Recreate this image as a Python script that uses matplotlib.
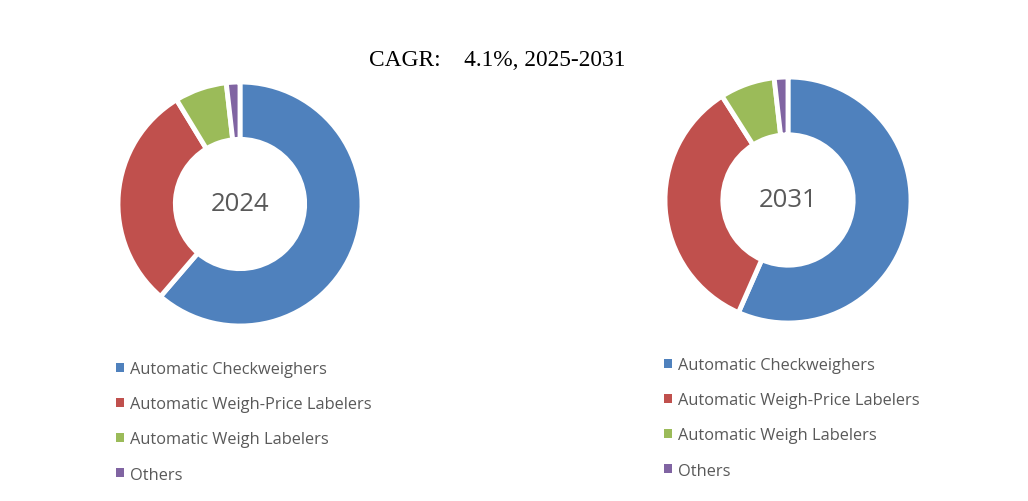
import matplotlib
matplotlib.use("Agg")
import matplotlib.pyplot as plt

categories = ["Automatic Checkweighers", "Automatic Weigh-Price Labelers",
              "Automatic Weigh Labelers", "Others"]
values_2024 = [61.3, 30.0, 6.9, 1.8]
values_2031 = [56.6, 34.4, 7.2, 1.8]
years = ["2024", "2031"]
title_text = "CAGR:    4.1%, 2025-2031"
colors = ["#4F81BD", "#C0504D", "#9BBB59", "#8064A2"]

W, H = 1028, 502
fig = plt.figure(figsize=(W / 100, H / 100), dpi=100)

def px_axes(cx, cy, r):
    return fig.add_axes([(cx - r) / W, (H - cy - r) / H, 2 * r / W, 2 * r / H])

specs = [(240, 205, 122, values_2024, years[0], (116, 373)),
         (788, 201, 123, values_2031, years[1], (664, 369))]

for cx, cy, r, vals, yr, (lx, ly) in specs:
    ax = px_axes(cx, cy, r)
    wedges, _ = ax.pie(vals, colors=colors, startangle=90, counterclock=False,
                       radius=1.0,
                       wedgeprops=dict(width=0.47, edgecolor="white", linewidth=3.5))
    ax.set_xlim(-1.0, 1.0)
    ax.set_ylim(-1.0, 1.0)
    ax.set_aspect("equal")
    ax.axis("off")
    ax.text(0, 0, yr, ha="center", va="center", fontsize=18.5,
            color="#595959", family="Open Sans")
    leg = fig.legend(wedges, categories, loc="upper left",
                     bbox_to_anchor=(lx / W, (H - ly + 11) / H),
                     frameon=False, prop=dict(family="Open Sans", size=11.8),
                     handlelength=0.5, handleheight=0.5, handletextpad=0.35,
                     labelspacing=1.17, borderpad=0, borderaxespad=0)
    for t in leg.get_texts():
        t.set_color("#595959")
    for h in leg.legend_handles:
        h.set_edgecolor("none")

fig.text(497 / W, (H - 60) / H, title_text, ha="center", va="center",
         fontsize=16.8, family="Liberation Serif", color="black")

fig.savefig("out.png", dpi=100)
